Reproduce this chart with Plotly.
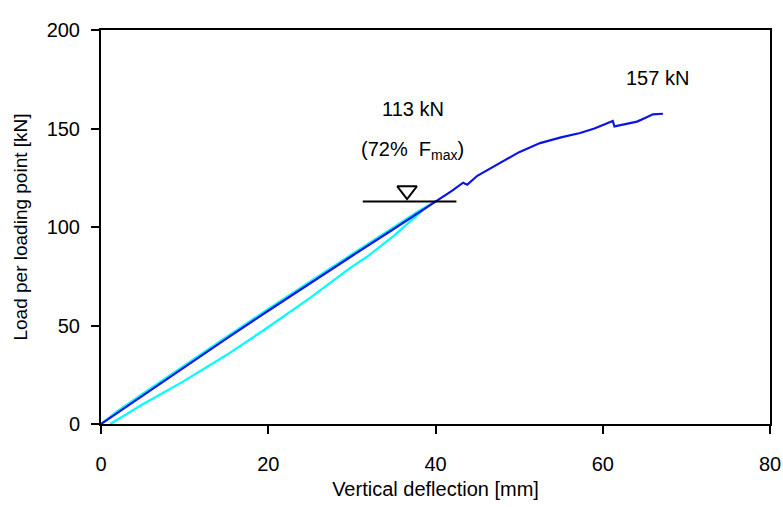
import plotly.graph_objects as go

# Reloading curve (blue)
blue_x = [0, 2, 5, 10, 15, 20, 25, 30, 35, 38, 40, 42, 43.3, 43.8, 45, 47.7, 50, 52.5, 55, 57.3, 59, 61.2, 61.4, 61.7, 63, 64.1, 65, 66, 67.2]
blue_y = [0, 5.8, 14.5, 29.0, 43.3, 57.5, 71.5, 85.3, 99.0, 107.3, 113.0, 118.5, 122.5, 121.5, 126.0, 132.5, 138.0, 142.6, 145.5, 147.7, 150.0, 153.8, 151.0, 151.3, 152.5, 153.5, 155.2, 157.2, 157.5]

# First cycle (cyan): loading then unloading
cyan_x = [0, 2, 5, 10, 15, 20, 25, 30, 35, 38, 40, 39, 37.8, 35, 31.8, 29.8, 25, 19.8, 15, 9.8, 5, 1.1]
cyan_y = [0, 6.6, 15.4, 29.9, 44.2, 58.4, 72.4, 86.2, 99.9, 108.2, 113.0, 110.5, 106.0, 95.5, 84.9, 79.3, 64.0, 48.6, 35.0, 21.5, 10.0, 0]

# Annotation values
ref_load = 113
ref_line_x = [31.3, 42.5]
marker_x = [36.6]
marker_y = [118.5]

FONT = "Liberation Sans Narrow, Arial Narrow, Liberation Sans, Arial, sans-serif"

fig = go.Figure()
fig.add_trace(go.Scatter(x=cyan_x, y=cyan_y, mode="lines",
                         line=dict(color="#00FFFF", width=2.2), showlegend=False))
fig.add_trace(go.Scatter(x=blue_x, y=blue_y, mode="lines",
                         line=dict(color="#0A14E6", width=2.2), showlegend=False))
fig.add_trace(go.Scatter(x=ref_line_x, y=[ref_load, ref_load], mode="lines",
                         line=dict(color="black", width=2), showlegend=False))
fig.add_trace(go.Scatter(x=marker_x, y=marker_y, mode="markers",
                         marker=dict(symbol="triangle-down-open", size=17,
                                     color="black", line=dict(width=2, color="black")),
                         showlegend=False))

fig.add_annotation(x=37.3, y=160, text="113 kN", showarrow=False,
                   font=dict(family=FONT, size=20, color="black"))
fig.add_annotation(x=37.3, y=139, text="(72%  F<sub>max</sub>)", showarrow=False,
                   font=dict(family=FONT, size=20, color="black"))
fig.add_annotation(x=66.5, y=175.5, text="157 kN", showarrow=False,
                   font=dict(family=FONT, size=20, color="black"))

axis_common = dict(showline=True, linecolor="black", linewidth=2, mirror=True,
                   ticks="outside", ticklen=8, tickwidth=2, tickcolor="black",
                   showgrid=False, zeroline=False, automargin=False,
                   tickfont=dict(family=FONT, size=20, color="black"))

fig.update_xaxes(range=[0, 80], tickvals=[0, 20, 40, 60, 80], ticklabelstandoff=13,
                 title=dict(text="Vertical deflection [mm]", font=dict(family=FONT, size=20, color="black"),
                            standoff=8),
                 **axis_common)
fig.update_yaxes(range=[0, 200], tickvals=[0, 50, 100, 150, 200], ticklabelstandoff=7,
                 title=dict(text="Load per loading point [kN]", font=dict(family=FONT, size=19, color="black"),
                            standoff=14),
                 **axis_common)

fig.update_layout(width=783, height=507, margin=dict(l=101, r=13, t=30, b=83),
                  plot_bgcolor="white", paper_bgcolor="white",
                  font=dict(family=FONT, size=20, color="black"))

fig.write_html("out.html", config={"displayModeBar": False},
               post_script="document.body.style.margin='0';")
